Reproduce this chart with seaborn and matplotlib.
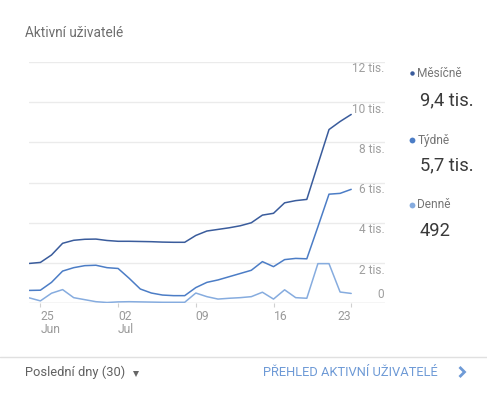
import numpy as np
import pandas as pd
import matplotlib
matplotlib.use("Agg")
import matplotlib.pyplot as plt
from matplotlib.lines import Line2D
import seaborn as sns

# ---- data (users, thousands) ----
start_date = "2018-06-24"
monthly = [1.98, 2.03, 2.40, 2.98, 3.13, 3.18, 3.19, 3.12, 3.08, 3.08,
           3.07, 3.06, 3.04, 3.03, 3.03, 3.37, 3.59, 3.67, 3.75, 3.85,
           4.00, 4.38, 4.47, 4.99, 5.10, 5.16, 6.90, 8.63, 9.03, 9.38]
weekly = [0.64, 0.65, 1.04, 1.60, 1.77, 1.87, 1.89, 1.77, 1.73, 1.24,
          0.71, 0.51, 0.41, 0.38, 0.38, 0.78, 1.04, 1.16, 1.32, 1.48,
          1.64, 2.07, 1.82, 2.17, 2.23, 2.21, 3.80, 5.42, 5.46, 5.66]
daily = [0.27, 0.12, 0.50, 0.68, 0.28, 0.18, 0.08, 0.04, 0.07, 0.08,
         0.07, 0.06, 0.05, 0.05, 0.05, 0.51, 0.33, 0.21, 0.25, 0.28,
         0.33, 0.55, 0.21, 0.67, 0.28, 0.25, 1.97, 1.97, 0.56, 0.49]
series_names = ["Měsíčně", "Týdně", "Denně"]
series_totals = ["9,4 tis.", "5,7 tis.", "492"]
colors = ["#3a5c9c", "#4c7dc6", "#86acdf"]
xtick_dates = ["2018-06-25", "2018-07-02", "2018-07-09", "2018-07-16", "2018-07-23"]
xtick_labels = ["25\nJun", "02\nJul", "09", "16", "23"]
ytick_values = [0, 2000, 4000, 6000, 8000, 10000, 12000]
ytick_labels = ["0", "2 tis.", "4 tis.", "6 tis.", "8 tis.", "10 tis.", "12 tis."]

dates = pd.date_range(start_date, periods=len(monthly), freq="D")
df = pd.DataFrame({
    "date": np.tile(dates, 3),
    "users": np.concatenate([np.array(monthly), np.array(weekly), np.array(daily)]) * 1000,
    "series": np.repeat(series_names, len(monthly)),
})

sns.set_style("white")
plt.rcParams["font.family"] = ["Roboto", "DejaVu Sans"]

W, H = 487, 396
fig = plt.figure(figsize=(W / 100, H / 100), dpi=100)
fig.patch.set_facecolor("white")

def fx(px):
    return px / W

def fy(py):
    return 1 - py / H

ax_left, ax_right, ax_top, ax_bottom = 29.3, 385.0, 61.7, 303.3
ax = fig.add_axes([fx(ax_left), fy(ax_bottom), fx(ax_right - ax_left), (ax_bottom - ax_top) / H])

sns.lineplot(data=df, x="date", y="users", hue="series", hue_order=series_names,
             palette=colors, linewidth=1.1, legend=False, ax=ax, zorder=3)

day_px = 11.1
x0 = pd.Timestamp(start_date)
ax.set_xlim(x0, x0 + pd.Timedelta(days=(ax_right - ax_left) / day_px))
ax.set_ylim(0, 12000)

for s in ax.spines.values():
    s.set_visible(False)

ax.set_yticks(ytick_values)
ax.set_yticklabels([])
ax.tick_params(axis="y", length=0)
ax.grid(axis="y", color="#ebebeb", linewidth=1.0, zorder=0)
ax.grid(axis="x", visible=False)
ax.axhline(0, color="#dedede", linewidth=1.0, zorder=1)

for v, lab in zip(ytick_values, ytick_labels):
    off = 6 if v == 0 else -5.2
    ax.annotate(lab, xy=(1, v), xycoords=("axes fraction", "data"),
                xytext=(-0.4, off), textcoords="offset points",
                ha="right", va="center", fontsize=8.6, color="#9e9e9e")

ax.set_xticks(pd.to_datetime(xtick_dates))
ax.set_xticklabels(xtick_labels)
ax.tick_params(axis="x", length=3, width=0.8, color="#d0d0d0", pad=1.5,
               labelsize=8.7, labelcolor="#9a9a9a", direction="out")
ax.xaxis.set_ticks_position("bottom")
ax.set_xlabel("")
ax.set_ylabel("")
tl = ax.get_xticklabels()
for i, t in enumerate(tl):
    t.set_ha("right" if i == len(tl) - 1 else "left")
    t.set_multialignment("left")
    t.set_linespacing(1.0)

# title
fig.text(fx(25), fy(33), "Aktivní uživatelé", fontsize=9.8, color="#6f6f6f",
         ha="left", va="center")

# legend on the right
leg_y = [73.3, 140, 205]
val_y = [100, 165, 231.5]
for i, name in enumerate(series_names):
    ms = 3.2 if i == 0 else 4.2
    fig.add_artist(Line2D([fx(411.5)], [fy(leg_y[i])], marker="o", markersize=ms,
                          color=colors[i], markeredgewidth=0, transform=fig.transFigure))
    fig.text(fx(417.5), fy(leg_y[i]), name, fontsize=8.6, color="#757575",
             ha="left", va="center")
    fig.text(fx(419.5), fy(val_y[i]), series_totals[i], fontsize=13.2,
             color="#3a3a3a", ha="left", va="center", fontweight="normal")

# footer
fig.add_artist(Line2D([0, 1], [fy(357.3), fy(357.3)], color="#e0e0e0",
                      linewidth=1.0, transform=fig.transFigure))
fig.text(fx(25), fy(372), "Poslední dny (30)", fontsize=9.3, color="#616161",
         ha="left", va="center")
fig.add_artist(Line2D([fx(136)], [fy(373.5)], marker="v", markersize=4.4,
                      color="#666666", markeredgewidth=0, transform=fig.transFigure))
fig.text(fx(263), fy(372), "PŘEHLED AKTIVNÍ UŽIVATELÉ", fontsize=9.3,
         color="#6e9ad6", ha="left", va="center")
fig.add_artist(Line2D([fx(459.5), fx(464.5), fx(459.5)], [fy(367), fy(372), fy(377)],
                      color="#6e9ad6", linewidth=2.0, solid_capstyle="butt",
                      solid_joinstyle="miter", transform=fig.transFigure))

fig.savefig("out.png", dpi=100, facecolor="white")
